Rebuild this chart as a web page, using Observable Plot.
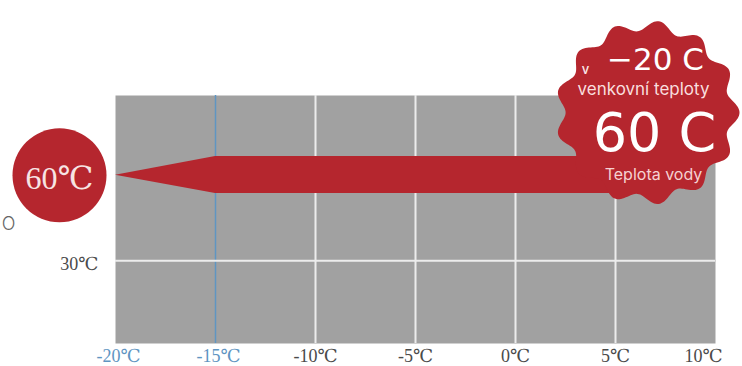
<!DOCTYPE html>
<html>
<head>
<meta charset="utf-8">
<script src="https://cdn.jsdelivr.net/npm/d3@7"></script>
<script src="https://cdn.jsdelivr.net/npm/@observablehq/plot@0.6"></script>
<style>
  html, body { margin: 0; padding: 0; background: #ffffff; }
  #chart svg { display: block; overflow: visible; }
  g[aria-label="badge-big"] text { letter-spacing: 3px; }
  g[aria-label="badge-mid"] text { letter-spacing: 1px; }
</style>
</head>
<body>
<div id="chart"></div>
<script>
// ---- data ----
const xTicksBlue = [-20, -15];
const xTicksDark = [-10, -5, 0, 5];
const xTicksLast = [10];
const whiteGridX = [-10, -5, 0, 5];
const blueGridX = [-15];
const yTicks = [30];
// heating water temperature band (arrow): outdoor temp vs water temp range
const arrowX = [-20, -15, 5];
const arrowLow = [60, 53.6, 53.6];
const arrowHigh = [60, 66.6, 66.6];
// left badge (water temperature at start)
const leftBadge = [{x: -22.8, y: 60, label: "60℃"}];
// stray axis glyph on the left
const strayLabel = [{x: -25.35, y: 42.8, label: "O"}];
// right badge
const badge = [{x: 6.6, y: 82}];
const badgeTexts = [
  {text: "v", dx: -62, dy: -43, size: 13, weight: 500, font: "inter", fill: "#fbe9e9", id: "badge-v"},
  {text: "−20 C", dx: 8, dy: -52.5, size: 31, weight: 400, font: "dejavu", fill: "#ffffff", id: "badge-mid"},
  {text: "venkovní teploty", dx: -4, dy: -23, size: 17, weight: 400, font: "inter", fill: "#f9dede", id: "badge-sub1"},
  {text: "60 C", dx: 7, dy: 20.7, size: 54, weight: 400, font: "dejavu", fill: "#ffffff", id: "badge-big"},
  {text: "Teplota vody", dx: 6, dy: 62, size: 16, weight: 400, font: "inter", fill: "#f6d2d2", id: "badge-sub2"}
];

const RED = "#b5262e";
const GRAY = "#a1a1a1";
const BLUE = "#5f95c2";
const DARK = "#4a4a4a";

const arrowData = arrowX.map((x, i) => ({x, lo: arrowLow[i], hi: arrowHigh[i]}));

const scallop = {
  draw(context, size) {
    const R = Math.sqrt(size / Math.PI);
    const n = 13, steps = 390;
    for (let i = 0; i <= steps; ++i) {
      const t = (i / steps) * 2 * Math.PI;
      const r = R * (0.945 + 0.055 * Math.cos(n * t));
      const px = r * Math.cos(t), py = r * Math.sin(t);
      if (i === 0) context.moveTo(px, py); else context.lineTo(px, py);
    }
    context.closePath();
  }
};

const serif = "'Liberation Serif', 'DejaVu Serif', serif";
const fonts = {inter: "Inter, 'Open Sans', sans-serif", dejavu: "'DejaVu Sans', sans-serif"};
const fmt = d => d + "℃";
const axisStyle = {tickSize: 0, tickPadding: 6, tickFormat: fmt, fontSize: 18, fontFamily: serif, label: null};

const marks = [
  Plot.frame({fill: GRAY, stroke: "none"}),
  Plot.ruleX(whiteGridX, {stroke: "#ececec", strokeWidth: 2}),
  Plot.ruleX(blueGridX, {stroke: BLUE, strokeWidth: 1.5}),
  Plot.ruleY(yTicks, {stroke: "#ececec", strokeWidth: 2}),
  Plot.areaY(arrowData, {x: "x", y1: "lo", y2: "hi", fill: RED, curve: "linear"}),
  Plot.axisX(xTicksDark, {...axisStyle, fill: DARK}),
  Plot.axisX(xTicksLast, {...axisStyle, fill: DARK, dx: -12}),
  Plot.axisX(xTicksBlue, {...axisStyle, fill: BLUE, dx: 3}),
  Plot.axisY(yTicks, {...axisStyle, tickPadding: 17, dy: 3, fill: DARK}),
  Plot.dot(leftBadge, {x: "x", y: "y", r: 47, fill: RED, stroke: "none"}),
  Plot.text(leftBadge, {x: "x", y: "y", text: "label", fill: "#f7e4e4", fontSize: 32, fontFamily: serif, dy: 3}),
  Plot.text(strayLabel, {x: "x", y: "y", text: "label", fill: "#666", fontSize: 18, fontFamily: fonts.inter, fontWeight: 300}),
  Plot.dot(badge, {x: "x", y: "y", r: 92, symbol: scallop, fill: RED, stroke: "none"}),
  ...badgeTexts.map(t => Plot.text(badge, {
    x: "x", y: "y", text: () => t.text, dx: t.dx, dy: t.dy, ariaLabel: t.id,
    fill: t.fill, fontSize: t.size, fontWeight: t.weight, fontFamily: fonts[t.font]
  }))
];

const chart = Plot.plot({
  width: 742,
  height: 366,
  marginLeft: 115,
  marginRight: 27,
  marginTop: 95,
  marginBottom: 23,
  x: {domain: [-20, 10], axis: null},
  y: {domain: [1, 88], axis: null},
  style: {background: "white", overflow: "visible"},
  marks
});
document.getElementById("chart").appendChild(chart);
</script>
</body>
</html>
